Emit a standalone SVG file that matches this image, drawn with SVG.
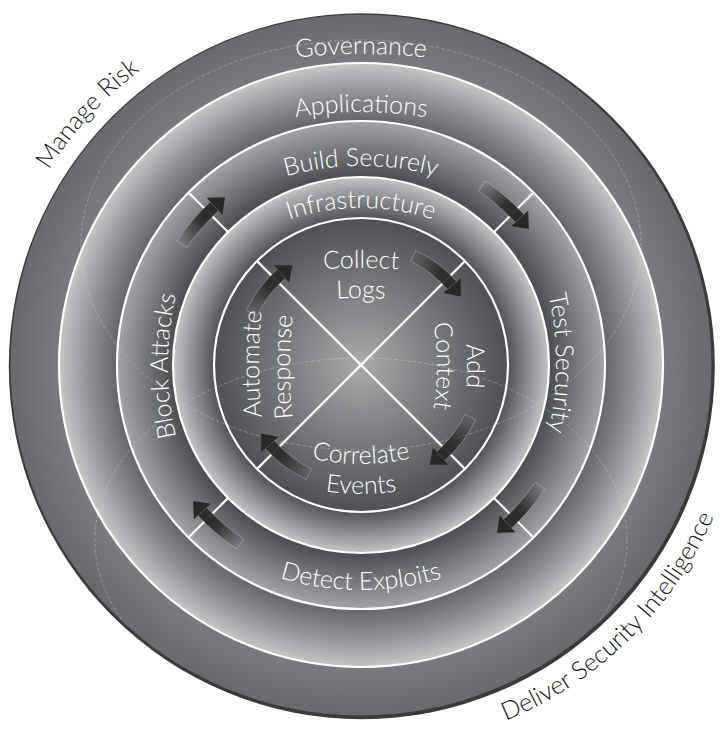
<svg xmlns="http://www.w3.org/2000/svg" width="721" height="729" viewBox="0 0 721 729">
<style>
.lbl{font-family:Lato,"Noto Sans","Liberation Sans",sans-serif;font-size:25px;font-weight:300;fill:#ffffff;}
.out{font-family:Lato,"Noto Sans","Liberation Sans",sans-serif;font-size:25px;font-weight:300;fill:#161616;}
.wl{fill:none;stroke:#ffffff;stroke-width:2.2;}
.sp{stroke:#ffffff;stroke-width:2.2;}
.faint{fill:none;stroke:#e2e2e2;stroke-opacity:0.4;stroke-width:0.8;stroke-dasharray:4 2;}
.ahead{fill:#282828;}
.abody{stroke:#e6e6e6;stroke-opacity:0.4;stroke-width:0.7;}
</style>
<defs>
<radialGradient id="gGov" gradientUnits="userSpaceOnUse" cx="361" cy="365" r="352">
<stop offset="0.85" stop-color="#7b7c7f"/><stop offset="1" stop-color="#68696c"/>
</radialGradient>
<radialGradient id="gApp" gradientUnits="userSpaceOnUse" cx="361" cy="365" r="302">
<stop offset="0.808" stop-color="#65666a"/><stop offset="0.9" stop-color="#8f9093"/><stop offset="1" stop-color="#c5c6c8"/>
</radialGradient>
<radialGradient id="gBld" gradientUnits="userSpaceOnUse" cx="361" cy="365" r="244">
<stop offset="0.77" stop-color="#4b4c4f"/><stop offset="1" stop-color="#a3a4a7"/>
</radialGradient>
<radialGradient id="gInf" gradientUnits="userSpaceOnUse" cx="361" cy="365" r="188">
<stop offset="0.782" stop-color="#525357"/><stop offset="1" stop-color="#c3c4c6"/>
</radialGradient>
<radialGradient id="gCore" gradientUnits="userSpaceOnUse" cx="361" cy="365" r="147">
<stop offset="0" stop-color="#a9aaac"/><stop offset="1" stop-color="#4f5053"/>
</radialGradient>
<linearGradient id="fadeB" gradientUnits="userSpaceOnUse" x1="212.03" y1="-41.21" x2="215.97" y2="-3.77">
<stop offset="0" stop-color="#282828" stop-opacity="0"/><stop offset="0.35" stop-color="#282828" stop-opacity="0.35"/><stop offset="0.75" stop-color="#282828" stop-opacity="0.85"/><stop offset="1" stop-color="#282828" stop-opacity="0.95"/>
</linearGradient>
<linearGradient id="fadeI" gradientUnits="userSpaceOnUse" x1="114.06" y1="-40.39" x2="121" y2="0">
<stop offset="0" stop-color="#282828" stop-opacity="0"/><stop offset="0.35" stop-color="#282828" stop-opacity="0.35"/><stop offset="0.75" stop-color="#282828" stop-opacity="0.85"/><stop offset="1" stop-color="#282828" stop-opacity="0.95"/>
</linearGradient>
<clipPath id="clipO"><circle cx="361" cy="365" r="350"/></clipPath>
<g id="arrB">
<path class="abody" fill="url(#fadeB)" d="M217.92,-42.36 A222,222 0 0,1 221.82,8.91 L209.83,8.43 A210,210 0 0,0 206.14,-40.07 Z"/>
<path class="ahead" d="M227.3,9.13 L214.82,22.58 L204.3,8.21 Z"/>
</g>
<g id="arrI">
<path class="abody" fill="url(#fadeI)" d="M119.72,-42.39 A127,127 0 0,1 126.71,8.64 L114.73,7.82 A115,115 0 0,0 108.40,-38.39 Z"/>
<path class="ahead" d="M132.2,9.0 L118.97,22.05 L109.2,7.45 Z"/>
</g>
<path id="pGov" d="M61,134.4 A600,600 0 0,1 661,134.4"/>
<path id="pApp" d="M161,165.6 A400,400 0 0,1 561,165.6"/>
<path id="pBld" d="M221,203.5 A280,280 0 0,1 501,203.5"/>
<path id="pInf" d="M246,238.8 A230,230 0 0,1 476,238.8"/>
<path id="pDet" d="M118.5,450 A280,280 0 0,0 603.5,450"/>
<path id="pBlk" d="M328,643.1 A320,320 0 0,1 328,88.9"/>
<path id="pTst" d="M396,85.9 A320,320 0 0,1 396,640.1"/>
<path id="pCol" d="M111,335 A500,500 0 0,1 611,335"/>
<path id="pLog" d="M111,365 A500,500 0 0,1 611,365"/>
<path id="pCor" d="M170.5,354 A220,220 0 0,0 551.5,354"/>
<path id="pEvt" d="M144.5,369 A250,250 0 0,0 577.5,369"/>
<path id="pAdd" d="M342,149.5 A250,250 0 0,1 342,582.5"/>
<path id="pCtx" d="M312,149.5 A250,250 0 0,1 312,582.5"/>
<path id="pAut" d="M509,797 A500,500 0 0,1 509,-69"/>
<path id="pRsp" d="M540,800 A500,500 0 0,1 540,-66"/>
<path id="pMan" d="M-7,365 A368,368 0 0,1 361,-3"/>
<path id="pDel" d="M361,749 A384,384 0 0,0 745,365"/>
</defs>
<rect x="0" y="0" width="721" height="729" fill="#ffffff"/>
<g id="governance">
<circle cx="361.8" cy="366.2" r="353" fill="#3a3a3a"/>
<circle cx="361" cy="365" r="350.5" fill="url(#gGov)"/>
</g>
<g id="applications"><circle cx="361" cy="365" r="302" fill="url(#gApp)"/></g>
<g id="build-ring"><circle cx="361" cy="365" r="244" fill="url(#gBld)"/></g>
<g id="infrastructure"><circle cx="361" cy="365" r="188" fill="url(#gInf)"/></g>
<g id="core"><circle cx="361" cy="365" r="147" fill="url(#gCore)"/></g>
<g id="guides" clip-path="url(#clipO)">
<ellipse class="faint" cx="361" cy="245" rx="280" ry="205"/>
<ellipse class="faint" cx="361" cy="540" rx="266" ry="182"/>
</g>
<g id="boundaries">
<circle class="wl" cx="361" cy="365" r="302"/>
<circle class="wl" cx="361" cy="365" r="244"/>
<circle class="wl" cx="361" cy="365" r="188"/>
<circle class="wl" cx="361" cy="365" r="147"/>
</g>
<g id="connectors">
<line class="sp" x1="257.1" y1="261.1" x2="464.9" y2="468.9"/>
<line class="sp" x1="464.9" y1="261.1" x2="257.1" y2="468.9"/>
<line class="sp" x1="228" y1="232" x2="188.5" y2="192.5"/>
<line class="sp" x1="494" y1="232" x2="533.5" y2="192.5"/>
<line class="sp" x1="494" y1="498" x2="533.5" y2="537.5"/>
<line class="sp" x1="228" y1="498" x2="188.5" y2="537.5"/>
<use href="#arrB" transform="translate(361 365) rotate(225)"/>
<use href="#arrB" transform="translate(361 365) rotate(315)"/>
<use href="#arrB" transform="translate(361 365) rotate(45)"/>
<use href="#arrB" transform="translate(361 365) rotate(135)"/>
<use href="#arrI" transform="translate(361 365) rotate(225)"/>
<use href="#arrI" transform="translate(361 365) rotate(315)"/>
<use href="#arrI" transform="translate(361 365) rotate(45)"/>
<use href="#arrI" transform="translate(361 365) rotate(135)"/>
</g>
<g id="label-governance"><text class="lbl" text-anchor="middle"><textPath href="#pGov" startOffset="50%">Governance</textPath></text></g>
<g id="label-applications"><text class="lbl" text-anchor="middle"><textPath href="#pApp" startOffset="50%">Applications</textPath></text></g>
<g id="label-build"><text class="lbl" text-anchor="middle"><textPath href="#pBld" startOffset="50%">Build Securely</textPath></text></g>
<g id="label-infrastructure"><text class="lbl" text-anchor="middle"><textPath href="#pInf" startOffset="50%">Infrastructure</textPath></text></g>
<g id="label-test"><text class="lbl" text-anchor="middle"><textPath href="#pTst" startOffset="50%">Test Security</textPath></text></g>
<g id="label-detect"><text class="lbl" text-anchor="middle"><textPath href="#pDet" startOffset="50%">Detect Exploits</textPath></text></g>
<g id="label-block"><text class="lbl" text-anchor="middle"><textPath href="#pBlk" startOffset="50%">Block Attacks</textPath></text></g>
<g id="label-collect"><text class="lbl" text-anchor="middle"><textPath href="#pCol" startOffset="50%">Collect</textPath><textPath href="#pLog" startOffset="50%">Logs</textPath></text></g>
<g id="label-context"><text class="lbl" text-anchor="middle"><textPath href="#pAdd" startOffset="50%">Add</textPath><textPath href="#pCtx" startOffset="50%">Context</textPath></text></g>
<g id="label-correlate"><text class="lbl" text-anchor="middle"><textPath href="#pCor" startOffset="50%">Correlate</textPath><textPath href="#pEvt" startOffset="50%">Events</textPath></text></g>
<g id="label-automate"><text class="lbl" text-anchor="middle"><textPath href="#pAut" startOffset="50%">Automate</textPath><textPath href="#pRsp" startOffset="50%">Response</textPath></text></g>
<g id="label-manage-risk"><text class="out" text-anchor="middle"><textPath href="#pMan" startOffset="47.3%">Manage Risk</textPath></text></g>
<g id="label-deliver"><text class="out" text-anchor="middle"><textPath href="#pDel" startOffset="49.4%">Deliver Security Intelligence</textPath></text></g>
</svg>
